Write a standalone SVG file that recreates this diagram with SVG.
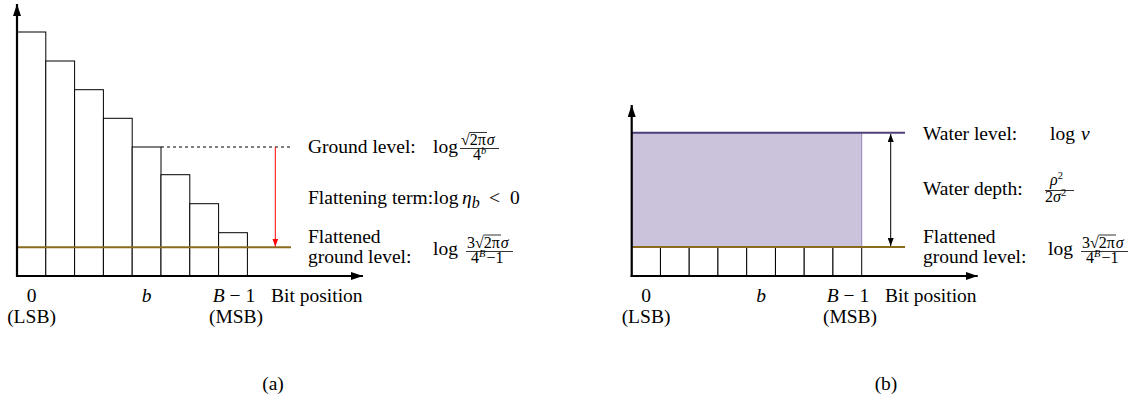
<svg xmlns="http://www.w3.org/2000/svg" width="1140" height="401" viewBox="0 0 1140 401" font-family="'Liberation Serif','DejaVu Serif','Times New Roman',serif">
<defs>
<style>
text{font-family:'Liberation Serif','DejaVu Serif','Times New Roman',serif;font-size:19.5px;fill:#000}
.it{font-style:italic}
.sm{font-size:16px}
.xs{font-size:10.5px}
.bar{fill:#fff;stroke:#000;stroke-width:1}
.axis{stroke:#000;stroke-width:2.2;fill:none}
.ground{stroke:#8b6c1f;stroke-width:2}
.fr{stroke:#000;stroke-width:0.8}
</style>
<marker id="axhead" markerUnits="userSpaceOnUse" viewBox="0 0 12 8" refX="12" refY="4" markerWidth="12" markerHeight="8" orient="auto"><path d="M0,0 L12,4 L0,8 Z" fill="#000"/></marker>
<marker id="redhead" markerUnits="userSpaceOnUse" viewBox="0 0 8 6" refX="8" refY="3" markerWidth="8" markerHeight="6" orient="auto"><path d="M0,0 L8,3 L0,6 Z" fill="#f00"/></marker>
<marker id="blkhead" markerUnits="userSpaceOnUse" viewBox="0 0 8 6" refX="8" refY="3" markerWidth="8" markerHeight="6" orient="auto-start-reverse"><path d="M0,0 L8,3 L0,6 Z" fill="#000"/></marker>
</defs>
<rect width="1140" height="401" fill="#fff"/>

<g id="panel-a">
<g id="bars-a">
<rect class="bar" x="17" y="32" width="28.8" height="244"/>
<rect class="bar" x="45.8" y="61" width="28.8" height="215"/>
<rect class="bar" x="74.6" y="89.7" width="28.8" height="186.3"/>
<rect class="bar" x="103.4" y="118.3" width="28.8" height="157.7"/>
<rect class="bar" x="132.2" y="147" width="28.8" height="129"/>
<rect class="bar" x="161" y="174.7" width="28.8" height="101.3"/>
<rect class="bar" x="189.8" y="203.7" width="28.8" height="72.3"/>
<rect class="bar" x="218.6" y="232.7" width="28.8" height="43.3"/>
</g>
<line id="ground-a" class="ground" x1="17" y1="247.3" x2="291" y2="247.3"/>
<g id="connectors-a">
<line x1="161" y1="147" x2="291" y2="147" stroke="#000" stroke-width="1.2" stroke-dasharray="3,3"/>
<line x1="275.3" y1="147" x2="275.3" y2="246.5" stroke="#f00" stroke-width="1" marker-end="url(#redhead)"/>
<line class="axis" x1="17" y1="277" x2="17" y2="4" marker-end="url(#axhead)"/>
<line class="axis" x1="16" y1="276" x2="363" y2="276" marker-end="url(#axhead)"/>
</g>
<g id="labels-a">
<text x="308" y="153">Ground level:</text>
<text x="433" y="153">log</text>
<text x="461" y="145" class="sm">√2π<tspan class="it" dx="1">σ</tspan></text>
<line x1="469.5" y1="132.5" x2="487" y2="132.5" class="fr"/>
<line x1="460" y1="148.5" x2="499" y2="148.5" class="fr"/>
<text x="473" y="159.5" class="sm">4<tspan class="xs it" dy="-6">b</tspan></text>

<text x="308" y="204">Flattening term:</text>
<text x="433.5" y="204">log</text>
<text x="462" y="204" class="it">η<tspan class="sm" dy="4">b</tspan></text>
<text x="489" y="204">&lt;</text>
<text x="510" y="204">0</text>

<text x="308" y="243">Flattened</text>
<text x="308" y="262.5">ground level:</text>
<text x="433" y="255">log</text>
<text x="467" y="247.5" class="sm">3√2π<tspan class="it" dx="1">σ</tspan></text>
<line x1="483.5" y1="235" x2="501" y2="235" class="fr"/>
<line x1="466" y1="251.5" x2="513" y2="251.5" class="fr"/>
<text x="471" y="263" class="sm">4<tspan class="xs it" dy="-6">B</tspan><tspan dy="6" dx="1">−1</tspan></text>

<text x="31.5" y="302" text-anchor="middle">0</text>
<text x="31.5" y="323" text-anchor="middle">(LSB)</text>
<text x="146.5" y="302" text-anchor="middle" class="it">b</text>
<text x="234" y="302" text-anchor="middle"><tspan class="it">B</tspan> − 1</text>
<text x="236" y="323" text-anchor="middle">(MSB)</text>
<text x="271" y="302">Bit position</text>
</g>
<text id="caption-a" x="273" y="390" text-anchor="middle">(a)</text>
</g>

<g id="panel-b">
<rect id="water" x="632" y="132.7" width="229.7" height="114.3" fill="#cbc3db" stroke="#9484b4" stroke-width="1"/>
<g id="cells-b">
<rect class="bar" x="631.7" y="247" width="28.75" height="29"/>
<rect class="bar" x="660.45" y="247" width="28.75" height="29"/>
<rect class="bar" x="689.2" y="247" width="28.75" height="29"/>
<rect class="bar" x="717.95" y="247" width="28.75" height="29"/>
<rect class="bar" x="746.7" y="247" width="28.75" height="29"/>
<rect class="bar" x="775.45" y="247" width="28.75" height="29"/>
<rect class="bar" x="804.2" y="247" width="28.75" height="29"/>
<rect class="bar" x="832.95" y="247" width="28.75" height="29"/>
</g>
<line id="water-level" x1="632" y1="132.7" x2="905" y2="132.7" stroke="#4f3f78" stroke-width="2"/>
<line id="ground-b" class="ground" x1="632" y1="247" x2="905" y2="247"/>
<g id="connectors-b">
<line x1="890.7" y1="134" x2="890.7" y2="246" stroke="#000" stroke-width="1" marker-start="url(#blkhead)" marker-end="url(#blkhead)"/>
<line class="axis" x1="631.7" y1="277" x2="631.7" y2="105" marker-end="url(#axhead)"/>
<line class="axis" x1="630.7" y1="276" x2="977.7" y2="276" marker-end="url(#axhead)"/>
</g>
<g id="labels-b">
<text x="923" y="140">Water level:</text>
<text x="1050" y="140">log</text>
<text x="1081" y="140" class="it">ν</text>
<text x="923" y="195">Water depth:</text>
<text x="1050" y="185" class="sm it">ρ<tspan class="xs" font-style="normal" dy="-6">2</tspan></text>
<line x1="1045" y1="190.5" x2="1074" y2="190.5" class="fr"/>
<text x="1045" y="202" class="sm">2<tspan class="it">σ</tspan><tspan class="xs" dy="-6">2</tspan></text>

<text x="923" y="243">Flattened</text>
<text x="923" y="262.5">ground level:</text>
<text x="1048" y="255">log</text>
<text x="1082" y="247.5" class="sm">3√2π<tspan class="it" dx="1">σ</tspan></text>
<line x1="1098.5" y1="235" x2="1116" y2="235" class="fr"/>
<line x1="1081" y1="251.5" x2="1128" y2="251.5" class="fr"/>
<text x="1086" y="263" class="sm">4<tspan class="xs it" dy="-6">B</tspan><tspan dy="6" dx="1">−1</tspan></text>

<text x="646" y="302" text-anchor="middle">0</text>
<text x="646" y="323" text-anchor="middle">(LSB)</text>
<text x="761" y="302" text-anchor="middle" class="it">b</text>
<text x="848" y="302" text-anchor="middle"><tspan class="it">B</tspan> − 1</text>
<text x="850" y="323" text-anchor="middle">(MSB)</text>
<text x="885" y="302">Bit position</text>
</g>
<text id="caption-b" x="886" y="390" text-anchor="middle">(b)</text>
</g>
</svg>
